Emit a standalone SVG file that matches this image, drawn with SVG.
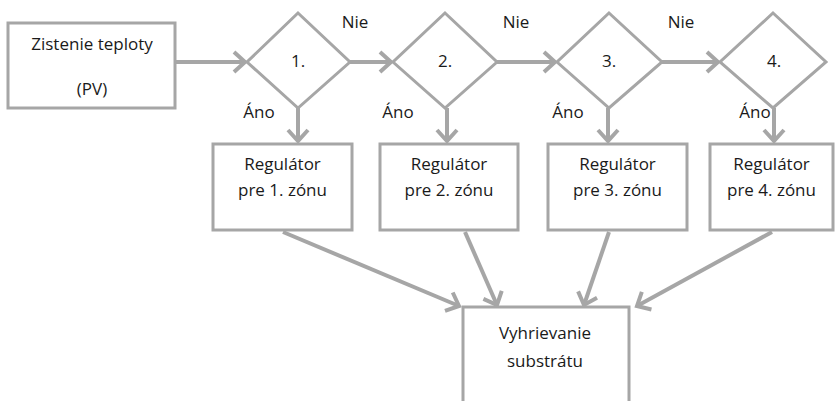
<svg xmlns="http://www.w3.org/2000/svg" width="835" height="401" viewBox="0 0 835 401">
<defs>
<style>
.box{fill:#fff;stroke:#a6a6a6;stroke-width:3}
.t{font-family:"Open Sans","Liberation Sans",sans-serif;font-size:17px;fill:#1a1a1a;text-anchor:middle}
.c{stroke:#a6a6a6;stroke-width:4;fill:none;marker-end:url(#ah)}
</style>
<marker id="ah" markerUnits="userSpaceOnUse" viewBox="-14 -12 16 24" refX="0" refY="0" markerWidth="16" markerHeight="24" orient="auto" overflow="visible">
<path d="M-11,-10 L0,0 L-11,10" fill="none" stroke="#a6a6a6" stroke-width="4"/>
</marker>
</defs>
<rect width="835" height="401" fill="#fff"/>
<g id="connectors">
<line class="c" x1="176" y1="62" x2="245" y2="62"/>
<line class="c" x1="350" y1="62" x2="391" y2="62"/>
<line class="c" x1="497" y1="62" x2="555" y2="62"/>
<line class="c" x1="662" y1="62" x2="718" y2="62"/>
<line class="c" x1="298" y1="108" x2="298" y2="141"/>
<line class="c" x1="447" y1="108" x2="447" y2="141"/>
<line class="c" x1="608" y1="108" x2="608" y2="141"/>
<line class="c" x1="774" y1="108" x2="774" y2="141"/>
<line class="c" x1="283" y1="232" x2="459" y2="306"/>
<line class="c" x1="465" y1="232" x2="497" y2="305"/>
<line class="c" x1="609" y1="232" x2="584" y2="305"/>
<line class="c" x1="772" y1="232" x2="637" y2="306"/>
</g>
<g id="start">
<rect class="box" x="8" y="23" width="167" height="85"/>
<text class="t" x="92" y="50">Zistenie teploty</text>
<text class="t" x="92" y="95">(PV)</text>
</g>
<g id="d1">
<polygon class="box" points="298,13 350,62 298,108 247,62"/>
<text class="t" x="298" y="67">1.</text>
</g>
<g id="d2">
<polygon class="box" points="445,13 497,62 445,108 393,62"/>
<text class="t" x="445" y="67">2.</text>
</g>
<g id="d3">
<polygon class="box" points="609,13 662,62 609,108 557,62"/>
<text class="t" x="609" y="67">3.</text>
</g>
<g id="d4">
<polygon class="box" points="773,13 826,62 773,108 720,62"/>
<text class="t" x="774" y="67">4.</text>
</g>
<g id="labels">
<text class="t" x="355" y="28">Nie</text>
<text class="t" x="516" y="28">Nie</text>
<text class="t" x="681" y="28">Nie</text>
<text class="t" x="259" y="118">Áno</text>
<text class="t" x="398" y="118">Áno</text>
<text class="t" x="568" y="118">Áno</text>
<text class="t" x="755" y="118">Áno</text>
</g>
<g id="r1">
<rect class="box" x="213" y="144" width="139" height="86"/>
<text class="t" x="282.5" y="170">Regulátor</text>
<text class="t" x="282.5" y="196">pre 1. zónu</text>
</g>
<g id="r2">
<rect class="box" x="380" y="144" width="138" height="86"/>
<text class="t" x="449" y="170">Regulátor</text>
<text class="t" x="449" y="196">pre 2. zónu</text>
</g>
<g id="r3">
<rect class="box" x="548" y="144" width="139" height="86"/>
<text class="t" x="617.5" y="170">Regulátor</text>
<text class="t" x="617.5" y="196">pre 3. zónu</text>
</g>
<g id="r4">
<rect class="box" x="710" y="144" width="123" height="86"/>
<text class="t" x="771.5" y="170">Regulátor</text>
<text class="t" x="771.5" y="196">pre 4. zónu</text>
</g>
<g id="heat">
<rect class="box" x="463" y="307" width="166" height="110"/>
<text class="t" x="545" y="339">Vyhrievanie</text>
<text class="t" x="545" y="367">substrátu</text>
</g>
</svg>
